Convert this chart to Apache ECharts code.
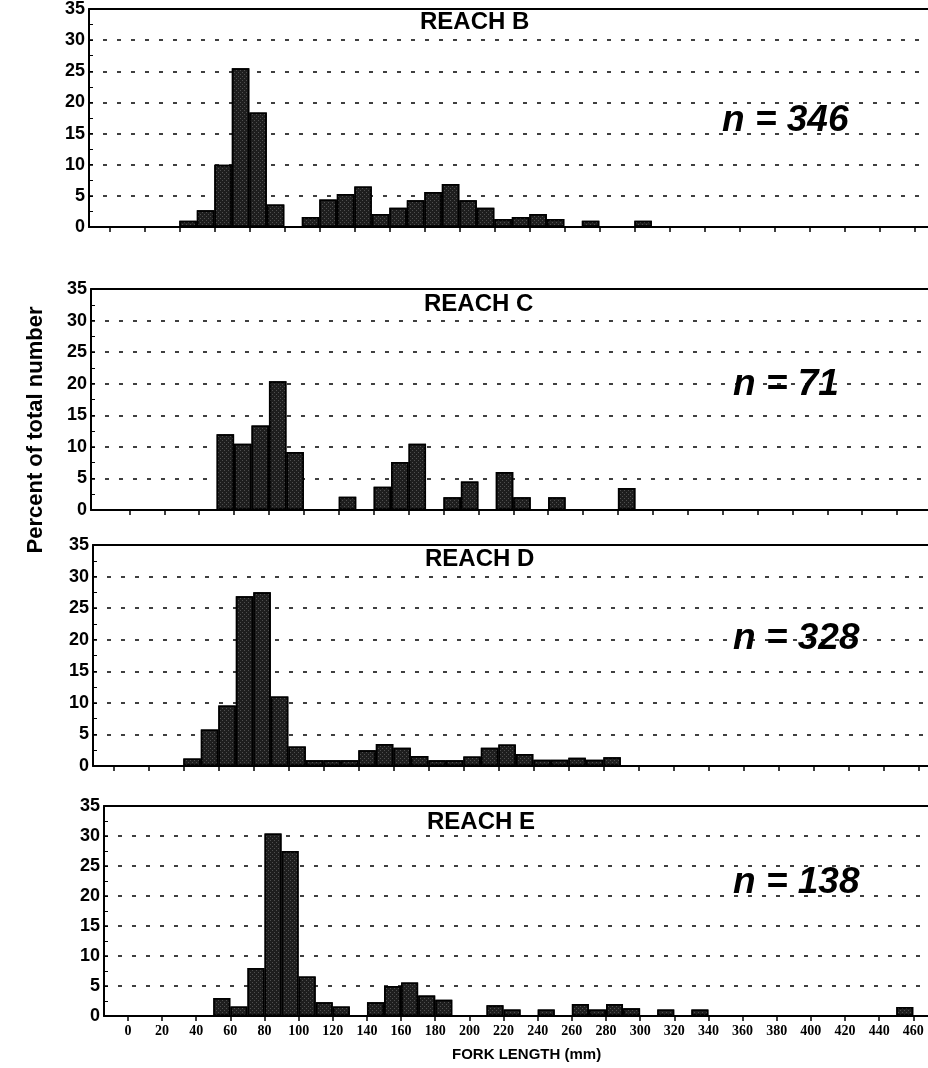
<!DOCTYPE html>
<html>
<head>
<meta charset="utf-8">
<script src="https://cdn.jsdelivr.net/npm/echarts@6/dist/echarts.min.js"></script>
<style>
  html, body { margin: 0; padding: 0; background: #fff; }
  #chart { width: 928px; height: 1068px; }
</style>
</head>
<body>
<div id="chart"></div>
<script>
/* fork length bins, lower edge in mm (10 mm wide) */
var binStarts = [0, 10, 20, 30, 40, 50, 60, 70, 80, 90,
  100, 110, 120, 130, 140, 150, 160, 170, 180, 190,
  200, 210, 220, 230, 240, 250, 260, 270, 280, 290,
  300, 310, 320, 330, 340, 350, 360, 370, 380, 390,
  400, 410, 420, 430, 440, 450, 460];

/* percent of total number, one value per bin */
var reachB = [0, 0, 0, 0, 1.0, 2.7, 10, 25.5, 18.4, 3.6,
  0, 1.6, 4.4, 5.3, 6.5, 2.1, 3.1, 4.3, 5.6, 6.9,
  4.3, 3.1, 1.3, 1.6, 2.1, 1.3, 0, 1.0, 0, 0,
  1.0, 0, 0, 0, 0, 0, 0, 0, 0, 0,
  0, 0, 0, 0, 0, 0, 0];
var reachC = [0, 0, 0, 0, 0, 12, 10.5, 13.4, 20.4, 9.2,
  0, 0, 2.1, 0, 3.7, 7.6, 10.5, 0, 2.0, 4.5,
  0, 6.0, 2.0, 0, 2.0, 0, 0, 0, 3.5, 0,
  0, 0, 0, 0, 0, 0, 0, 0, 0, 0,
  0, 0, 0, 0, 0, 0, 0];
var reachD = [0, 0, 0, 0, 1.2, 5.8, 9.6, 26.9, 27.5, 11,
  3.1, 0.9, 0.9, 0.9, 2.5, 3.5, 2.9, 1.6, 0.9, 0.9,
  1.5, 2.9, 3.4, 1.9, 1.0, 1.0, 1.3, 1.0, 1.4, 0,
  0, 0, 0, 0, 0, 0, 0, 0, 0, 0,
  0, 0, 0, 0, 0, 0, 0];
var reachE = [0, 0, 0, 0, 0, 3.0, 1.6, 8.0, 30.4, 27.5,
  6.6, 2.3, 1.6, 0, 2.3, 5.0, 5.6, 3.4, 2.7, 0,
  0, 1.8, 1.1, 0, 1.1, 0, 2.0, 1.1, 2.0, 1.3,
  0, 1.1, 0, 1.1, 0, 0, 0, 0, 0, 0,
  0, 0, 0, 0, 0, 1.5, 0];

var reachNames = ["REACH B", "REACH C", "REACH D", "REACH E"];
var sampleSizes = ["n = 346", "n = 71", "n = 328", "n = 138"];
var xTickValues = [0, 20, 40, 60, 80, 100, 120, 140, 160, 180, 200, 220,
  240, 260, 280, 300, 320, 340, 360, 380, 400, 420, 440, 460];

/* layout of the four stacked panels */
var panels = [
  { data: reachB, top: 8, height: 219, left: 89, min: -11.6, max: 467.8, barWidth: 17.5, titleX: 420, titleY: 10, nX: 722, nY: 102 },
  { data: reachC, top: 289, height: 221, left: 91, min: -22, max: 457.7, barWidth: 17.5, titleX: 424, titleY: 292, nX: 733, nY: 366 },
  { data: reachD, top: 545, height: 221, left: 93, min: -11.6, max: 465.5, barWidth: 17.5, titleX: 425, titleY: 547, nX: 733, nY: 620 },
  { data: reachE, top: 806, height: 210, left: 104, min: -14, max: 468.6, barWidth: 17, titleX: 427, titleY: 810, nX: 733, nY: 864 },
];

var sans = '"Liberation Sans", Arial, sans-serif';
var chart = echarts.init(document.getElementById("chart"));

var grids = [], xAxes = [], yAxes = [], series = [], titles = [];

panels.forEach(function (p, i) {
  var isLast = i === panels.length - 1;
  grids.push({ left: p.left, right: 0, top: p.top, height: p.height, containLabel: false });

  // bottom axis (fork length)
  xAxes.push({
    type: "value",
    gridIndex: i,
    min: p.min,
    max: p.max,
    position: "bottom",
    axisLine: { show: true, onZero: false, lineStyle: { color: "#000", width: 2 } },
    axisTick: {
      show: true,
      customValues: xTickValues,
      length: 5,
      lineStyle: { color: "#000", width: 1.5 },
    },
    axisLabel: {
      show: isLast,
      customValues: xTickValues,
      color: "#000",
      fontFamily: '"Liberation Serif", "Times New Roman", serif',
      fontWeight: "bold",
      fontSize: 14,
      margin: 8,
    },
    splitLine: { show: false },
  });
  // top frame line
  xAxes.push({
    type: "value",
    gridIndex: i,
    min: p.min,
    max: p.max,
    position: "top",
    axisLine: { show: true, onZero: false, lineStyle: { color: "#000", width: 2 } },
    axisTick: { show: false },
    axisLabel: { show: false },
    splitLine: { show: false },
  });

  yAxes.push({
    type: "value",
    gridIndex: i,
    min: 0,
    max: 35,
    interval: 5,
    axisLine: { show: true, onZero: false, lineStyle: { color: "#000", width: 2 } },
    axisTick: { show: true, inside: true, length: 4, lineStyle: { color: "#000", width: 1 } },
    minorTick: { show: true, splitNumber: 2, length: 4, lineStyle: { color: "#000", width: 1 } },
    axisLabel: {
      color: "#000",
      fontFamily: sans,
      fontWeight: "bold",
      fontSize: 18,
      margin: 4,
    },
    splitLine: { show: true, lineStyle: { color: "#000", width: 1.5, type: [4, 10] } },
  });

  var points = [];
  p.data.forEach(function (v, k) {
    if (v > 0) points.push([binStarts[k] + 5, v]);
  });

  series.push({
    type: "bar",
    name: reachNames[i],
    xAxisIndex: i * 2,
    yAxisIndex: i,
    barWidth: p.barWidth,
    data: points,
    itemStyle: {
      color: "#1e1e1e",
      borderColor: "#000",
      borderWidth: 1.5,
      decal: {
        symbol: "rect",
        symbolSize: 1,
        dashArrayX: [[1, 3], [0, 2, 1, 1]],
        dashArrayY: [1, 1],
        color: "rgba(255,255,255,0.22)",
      },
    },
    silent: true,
  });

  titles.push({
    text: reachNames[i],
    left: p.titleX,
    top: p.titleY,
    padding: 0,
    textStyle: { fontFamily: sans, fontWeight: "bold", fontSize: 24, color: "#000" },
  });
  titles.push({
    text: sampleSizes[i],
    left: p.nX,
    top: p.nY,
    padding: 0,
    textStyle: { fontFamily: sans, fontWeight: "bold", fontStyle: "italic", fontSize: 37, color: "#000" },
  });
});

titles.push({
  text: "FORK LENGTH (mm)",
  left: 452,
  top: 1047,
  padding: 0,
  textStyle: { fontFamily: sans, fontWeight: "bold", fontSize: 15, color: "#000" },
});

var option = {
  animation: false,
  backgroundColor: "#fff",
  title: titles,
  grid: grids,
  xAxis: xAxes,
  yAxis: yAxes,
  series: series,
  graphic: [
    {
      type: "text",
      x: 36,
      y: 430,
      rotation: Math.PI / 2,
      style: {
        text: "Percent of total number",
        font: 'bold 22px "Liberation Sans", Arial, sans-serif',
        fill: "#000",
        align: "center",
        verticalAlign: "middle",
      },
    },
  ],
};

chart.setOption(option);
</script>
</body>
</html>
